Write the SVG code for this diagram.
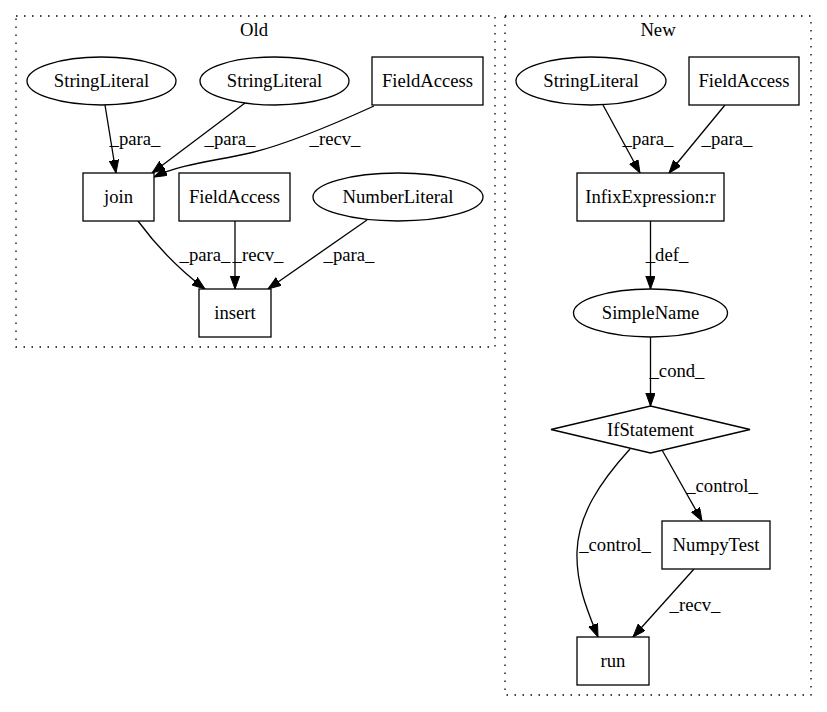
<svg xmlns="http://www.w3.org/2000/svg" width="827" height="712" viewBox="0 0 827 712">
<style>
text{font-family:"Liberation Serif","Times New Roman",serif;font-size:18.67px;fill:#000;text-anchor:middle}
.cl{fill:none;stroke:#000;stroke-width:1.3;stroke-dasharray:1.5,6.5}
.n{fill:#fff;stroke:#000;stroke-width:1.3}
.e{fill:none;stroke:#000;stroke-width:1.3;marker-end:url(#ah)}
</style>
<defs>
<marker id="ah" markerUnits="userSpaceOnUse" markerWidth="14" markerHeight="10" refX="13" refY="4.7" orient="auto">
<path d="M0,0 L13,4.7 L0,9.4 z" fill="#000" stroke="#000" stroke-width="1"/>
</marker>
</defs>
<rect width="827" height="712" fill="#fff"/>
<g id="cluster_old">
<rect class="cl" x="16" y="16" width="479" height="331"/>
<text x="254" y="36">Old</text>
</g>
<g id="cluster_new">
<rect class="cl" x="505" y="16" width="306" height="679"/>
<text x="658" y="36">New</text>
</g>
<g id="edges">
<path class="e" d="M105,105 L116,173"/>
<text x="135" y="145">_para_</text>
<path class="e" d="M245,103 L152,173"/>
<text x="230" y="145">_para_</text>
<path class="e" d="M374,106 C330,126 280,146 250,153 C215,161 180,164 154,177"/>
<text x="335" y="145">_recv_</text>
<path class="e" d="M138,221 C152,240 172,264 205,289"/>
<text x="205" y="261">_para_</text>
<path class="e" d="M235,221 L235,289"/>
<text x="258" y="261">_recv_</text>
<path class="e" d="M367,220 L268,289"/>
<text x="349" y="261">_para_</text>
<path class="e" d="M603,105 L640,173"/>
<text x="648" y="145">_para_</text>
<path class="e" d="M725,105 L669,173"/>
<text x="727" y="145">_para_</text>
<path class="e" d="M650.5,221 L650.5,289"/>
<text x="667" y="261">_def_</text>
<path class="e" d="M650.5,337 L650.5,406"/>
<text x="677" y="377">_cond_</text>
<path class="e" d="M662,450 L702,521"/>
<text x="722" y="492">_control_</text>
<path class="e" d="M630,449 C600,482 578,515 577,552 C576,585 588,612 598,637"/>
<text x="615" y="551">_control_</text>
<path class="e" d="M694,569 L633,637"/>
<text x="695" y="611">_recv_</text>
</g>
<g id="old_sl1"><ellipse class="n" cx="101.5" cy="81" rx="74.5" ry="24"/><text x="101.5" y="87">StringLiteral</text></g>
<g id="old_sl2"><ellipse class="n" cx="274.5" cy="81" rx="74.5" ry="24"/><text x="274.5" y="87">StringLiteral</text></g>
<g id="old_fa1"><rect class="n" x="372" y="57" width="111" height="48"/><text x="427.5" y="87">FieldAccess</text></g>
<g id="old_join"><rect class="n" x="83" y="173" width="71" height="48"/><text x="118.5" y="203">join</text></g>
<g id="old_fa2"><rect class="n" x="179" y="173" width="111" height="48"/><text x="234.5" y="203">FieldAccess</text></g>
<g id="old_nl"><ellipse class="n" cx="398" cy="197" rx="85" ry="24"/><text x="398" y="203">NumberLiteral</text></g>
<g id="old_insert"><rect class="n" x="199" y="289" width="72" height="48"/><text x="235" y="319">insert</text></g>
<g id="new_sl"><ellipse class="n" cx="591" cy="81" rx="75" ry="24"/><text x="591" y="87">StringLiteral</text></g>
<g id="new_fa"><rect class="n" x="689" y="57" width="110" height="48"/><text x="744" y="87">FieldAccess</text></g>
<g id="new_infix"><rect class="n" x="577" y="173" width="147" height="48"/><text x="650.5" y="203">InfixExpression:r</text></g>
<g id="new_simplename"><ellipse class="n" cx="650.5" cy="313" rx="77" ry="24"/><text x="650.5" y="319">SimpleName</text></g>
<g id="new_if"><polygon class="n" points="650.5,406 750,429.5 650.5,453 551,429.5"/><text x="650.5" y="436">IfStatement</text></g>
<g id="new_numpytest"><rect class="n" x="662" y="521" width="108" height="48"/><text x="716" y="551">NumpyTest</text></g>
<g id="new_run"><rect class="n" x="577" y="637" width="72" height="48"/><text x="613" y="667">run</text></g>
</svg>
